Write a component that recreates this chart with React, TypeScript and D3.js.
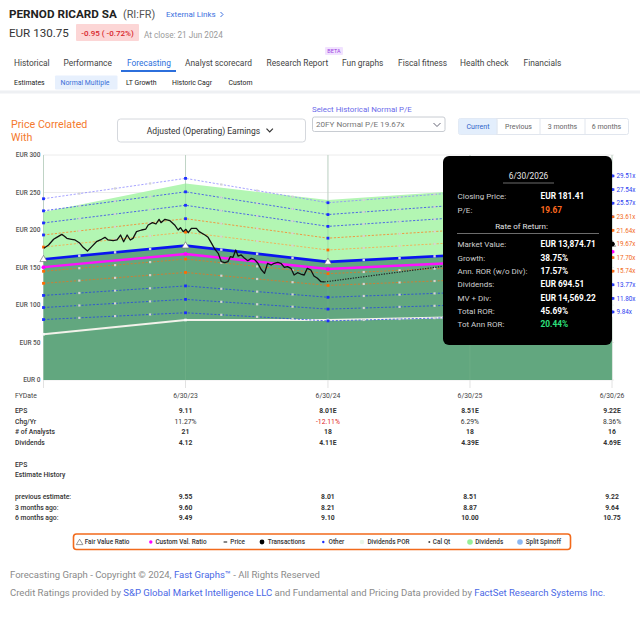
import * as d3 from 'd3';

// ---- data ----
const fyDates = ['2022-06-30', '2023-06-30', '2024-06-30', '2025-06-30', '2026-06-30'];
const epsValues = [8.19, 9.11, 8.01, 8.51, 9.22];
const fairValuePE = 19.67;
const peMultiples = [29.51, 27.54, 25.57, 23.61, 21.64, 17.7, 15.74, 13.77, 11.8, 9.84];
const labelMultiples = [29.51, 27.54, 25.57, 23.61, 21.64, 19.67, 17.7, 15.74, 13.77, 11.8, 9.84];
const customValues = [150.5, 168, 148, 157, 171];
const upperBandValues = [224, 262, 240, 253, 272];
const dividendLineValues = [61, 80, 80, 84, 86];
const calQuarters = [
  '2022-09-30', '2022-12-31', '2023-03-31',
  '2023-09-30', '2023-12-31', '2024-03-31',
  '2024-09-30', '2024-12-31', '2025-03-31',
  '2025-09-30', '2025-12-31', '2026-03-31',
];
const yTicks = [0, 50, 100, 150, 200, 250, 300];

const pricePoints: [string, number][] = [
  ['2022-07-01', 175.6], ['2022-07-13', 180], ['2022-07-26', 187.6], ['2022-08-03', 190.2],
  ['2022-08-16', 194.2], ['2022-08-22', 192], ['2022-08-29', 188.9], ['2022-09-10', 187.6],
  ['2022-09-19', 186.7], ['2022-09-30', 183.1], ['2022-10-10', 176.9], ['2022-10-21', 172],
  ['2022-11-01', 177.8], ['2022-11-13', 184.4], ['2022-11-26', 187.6], ['2022-12-05', 190.2],
  ['2022-12-13', 186.7], ['2022-12-26', 185.8], ['2023-01-05', 186.7], ['2023-01-14', 193.3],
  ['2023-01-22', 184.4], ['2023-01-31', 193.3], ['2023-02-08', 186.7], ['2023-02-15', 188.9],
  ['2023-02-24', 197.8], ['2023-03-09', 200], ['2023-03-20', 201.3], ['2023-03-26', 206.7],
  ['2023-04-06', 209.8], ['2023-04-15', 208], ['2023-04-23', 214.2], ['2023-04-28', 209.8],
  ['2023-05-08', 214.2], ['2023-05-21', 212.4], ['2023-06-02', 206.7], ['2023-06-11', 200],
  ['2023-06-17', 203.1], ['2023-06-24', 197.8], ['2023-07-01', 200.9], ['2023-07-07', 196.4],
  ['2023-07-15', 202.2], ['2023-07-28', 202.2], ['2023-08-04', 197.8], ['2023-08-19', 193.3],
  ['2023-08-27', 190.2], ['2023-09-05', 182.2], ['2023-09-13', 174.7], ['2023-09-22', 168.9],
  ['2023-09-30', 157.8], ['2023-10-09', 156.4], ['2023-10-17', 157.8], ['2023-10-23', 164.4],
  ['2023-10-30', 163.6], ['2023-11-06', 173.3], ['2023-11-12', 165.3], ['2023-11-20', 166.7],
  ['2023-11-29', 162.2], ['2023-12-07', 159.1], ['2023-12-16', 162.2], ['2023-12-24', 160.9],
  ['2024-01-02', 155.6], ['2024-01-10', 147.6], ['2024-01-19', 142.2], ['2024-01-27', 155.6],
  ['2024-02-05', 153.3], ['2024-02-13', 155.6], ['2024-02-22', 156.9], ['2024-03-01', 155.6],
  ['2024-03-10', 150.2], ['2024-03-18', 151.1], ['2024-03-27', 148.9], ['2024-04-04', 140],
  ['2024-04-13', 143.1], ['2024-04-21', 141.3], ['2024-04-30', 140], ['2024-05-08', 148.9],
  ['2024-05-17', 146.7], ['2024-05-25', 138.7], ['2024-06-03', 135.6], ['2024-06-12', 131.1],
  ['2024-06-21', 130.75],
];
const projectedPrice: [string, number] = ['2026-06-30', 181.41];

// table
const tableDates = ['6/30/23', '6/30/24', '6/30/25', '6/30/26'];
const tableEps = ['9.11', '8.01E', '8.51E', '9.22E'];
const tableChg = ['11.27%', '-12.11%', '6.29%', '8.36%'];
const tableAnalysts = ['21', '18', '18', '16'];
const tableDividends = ['4.12', '4.11E', '4.39E', '4.69E'];
const prevEstimate = ['9.55', '8.01', '8.51', '9.22'];
const threeMonthsAgo = ['9.60', '8.21', '8.87', '9.64'];
const sixMonthsAgo = ['9.49', '9.10', '10.00', '10.75'];

// tooltip
const tipLabels = ['Market Value:', 'Growth:', 'Ann. ROR (w/o Div):', 'Dividends:', 'MV + Div:', 'Total ROR:', 'Tot Ann ROR:'];
const tipValues = ['EUR 13,874.71', '38.75%', '17.57%', 'EUR 694.51', 'EUR 14,569.22', '45.69%', '20.44%'];

const tabs = ['Historical', 'Performance', 'Forecasting', 'Analyst scorecard', 'Research Report', 'Fun graphs', 'Fiscal fitness', 'Health check', 'Financials'];
const subTabs = ['Estimates', 'Normal Multiple', 'LT Growth', 'Historic Cagr', 'Custom'];
const periodButtons = ['Current', 'Previous', '3 months', '6 months'];
const legendLabels = ['Fair Value Ratio', 'Custom Val. Ratio', 'Price', 'Transactions', 'Other', 'Dividends POR', 'Cal Qt', 'Dividends', 'Split Spinoff'];

const FONT = 'Roboto, "Noto Sans", sans-serif';
const parse = d3.timeParse('%Y-%m-%d');

const lineColor = (m: number) => {
  if (m > 29) return '#8a86ff';
  if (m > 25) return '#2e3cf0';
  if (m > 22) return '#ff7d1f';
  if (m > 20) return '#ffa040';
  if (m > 15) return '#e8741f';
  return '#2442e6';
};
const labelColor = (m: number) => (m > 25 || m < 15 ? '#2a3cf0' : '#f26a1b');

export default function App() {
  const dates = fyDates.map((d) => parse(d) as Date);
  const x = d3.scaleTime().domain([dates[0], dates[dates.length - 1]]).range([43.5, 612]);
  const y = d3.scaleLinear().domain([0, 300]).range([380, 155]);
  const epsAt = d3.scaleTime<number>().domain(dates).range(epsValues);

  const line = d3
    .line<[Date, number]>()
    .x((d) => x(d[0]))
    .y((d) => y(d[1]));

  const fvSeries: [Date, number][] = dates.map((d, i) => [d, epsValues[i] * fairValuePE]);

  const lightArea = d3
    .area<number>()
    .x((_, i) => x(dates[i]))
    .y0((_, i) => y(epsValues[i] * fairValuePE))
    .y1((d) => y(d));
  const darkArea = d3
    .area<number>()
    .x((_, i) => x(dates[i]))
    .y0(y(0))
    .y1((d) => y(d));

  const priceSeries: [Date, number][] = pricePoints.map(([d, v]) => [parse(d) as Date, v]);
  const lastPrice = priceSeries[priceSeries.length - 1];
  const projSeries: [Date, number][] = [lastPrice, [parse(projectedPrice[0]) as Date, projectedPrice[1]]];

  const tableX = dates.slice(1).map((d) => x(d));
  const quarterDates = calQuarters.map((d) => parse(d) as Date);

  const txt = (props: any, s: string) => (
    <text fontFamily={FONT} {...props}>
      {s}
    </text>
  );

  const tabX = [14, 63.5, 127, 185, 266.5, 342, 398, 460, 523.5];
  const subTabX = [14, 60.5, 126, 172, 228.5];
  const legendX = [84.7, 155.4, 230.3, 267.8, 328.6, 367.4, 432.8, 475.2, 525.7];

  const tableRows: { label: string; vals: string[]; y: number; bold: boolean }[] = [
    { label: 'EPS', vals: tableEps, y: 412.5, bold: true },
    { label: 'Chg/Yr', vals: tableChg, y: 423.5, bold: false },
    { label: '# of Analysts', vals: tableAnalysts, y: 434, bold: true },
    { label: 'Dividends', vals: tableDividends, y: 444.5, bold: true },
    { label: 'previous estimate:', vals: prevEstimate, y: 498.5, bold: true },
    { label: '3 months ago:', vals: threeMonthsAgo, y: 509.5, bold: true },
    { label: '6 months ago:', vals: sixMonthsAgo, y: 520, bold: true },
  ];

  const ly = 542;

  return (
    <div style={{ position: 'absolute', left: 0, top: 0 }}>
      <svg width={640} height={618} style={{ display: 'block', background: '#fff' }}>
        {/* header */}
        {txt({ x: 9, y: 17.5, fontSize: 11.7, fontWeight: 700, fill: '#222' }, 'PERNOD RICARD SA')}
        {txt({ x: 123, y: 17.5, fontSize: 10.8, fill: '#555' }, '(RI:FR)')}
        {txt({ x: 166, y: 16.8, fontSize: 8, fill: '#3b6fe0' }, 'External Links')}
        <path d="M220.5,12 L223,14.5 L220.5,17" fill="none" stroke="#3b6fe0" strokeWidth={1} />
        {txt({ x: 9, y: 36.5, fontSize: 11.6, fill: '#333' }, 'EUR 130.75')}
        <rect x={76} y={24} width={63} height={17} fill="#fcd6d6" rx={1} />
        {txt({ x: 107.5, y: 35.5, fontSize: 8, fill: '#d8262c', textAnchor: 'middle', fontWeight: 500 }, '-0.95 ( -0.72%)')}
        {txt({ x: 144, y: 37.5, fontSize: 8.2, fill: '#9a9a9a' }, 'At close: 21 Jun 2024')}

        {/* tabs */}
        <rect x={325} y={47} width={18} height={8} fill="#f1e2ff" rx={1} />
        {txt({ x: 334, y: 53.4, fontSize: 5.5, fill: '#9b3fe0', textAnchor: 'middle' }, 'BETA')}
        {tabs.map((t, i) =>
          txt(
            { key: t, x: tabX[i], y: 66, fontSize: 8.4, fill: i === 2 ? '#2c6fdc' : '#444' },
            t,
          ),
        )}
        <rect x={121} y={70} width={55} height={2} fill="#2c6fdc" />
        <rect x={55} y={75.5} width={62.5} height={14} fill="#e7f0fd" rx={1} />
        {subTabs.map((t, i) =>
          txt(
            { key: t, x: subTabX[i], y: 84.8, fontSize: 6.9, fill: i === 1 ? '#3a6fd8' : '#222' },
            t,
          ),
        )}
        <rect x={0} y={90.5} width={640} height={3} fill="#eef0f3" />

        {/* controls */}
        {txt({ x: 11, y: 128, fontSize: 10.7, fill: '#f47a2e' }, 'Price Correlated')}
        {txt({ x: 11, y: 141, fontSize: 10.7, fill: '#f47a2e' }, 'With')}
        <rect x={117.5} y={119} width={188} height={23} rx={3} fill="#fff" stroke="#d5d8dd" />
        {txt({ x: 203.5, y: 133.6, fontSize: 8.5, fill: '#333', textAnchor: 'middle' }, 'Adjusted (Operating) Earnings')}
        <path d="M266.5,128.7 L269.7,131.9 L272.9,128.7" fill="none" stroke="#333" strokeWidth={1.2} />
        {txt({ x: 312, y: 111.8, fontSize: 7.9, fill: '#6a6aea' }, 'Select Historical Normal P/E')}
        <rect x={312.5} y={117} width={132.5} height={14.5} rx={2} fill="#fff" stroke="#c8ccd2" />
        {txt({ x: 316, y: 127.2, fontSize: 8.1, fill: '#777' }, '20FY Normal P/E 19.67x')}
        <path d="M433.5,123 L437,126.5 L440.5,123" fill="none" stroke="#667" strokeWidth={1} />
        <rect x={458.5} y={118.5} width={170} height={16} rx={2} fill="#fff" stroke="#e1e6ee" />
        <rect x={458.5} y={118.5} width={39} height={16} rx={2} fill="#e3eefc" />
        {[497, 540, 585].map((bx) => (
          <line key={bx} x1={bx} x2={bx} y1={118.5} y2={134.5} stroke="#e1e6ee" />
        ))}
        {periodButtons.map((b, i) =>
          txt(
            {
              key: b,
              x: [478, 518.5, 562.5, 606.5][i],
              y: 128.8,
              fontSize: 7,
              fill: i === 0 ? '#2f63c9' : '#666',
              textAnchor: 'middle',
            },
            b,
          ),
        )}

        {/* chart grid */}
        {yTicks.map((t) => (
          <g key={t}>
            <line x1={43.5} x2={614} y1={y(t)} y2={y(t)} stroke="#ececec" strokeWidth={1} />
            {txt(
              { x: 40.5, y: y(t) + 2.2, fontSize: 6.5, fill: '#555', textAnchor: 'end', fontWeight: 500 },
              `EUR ${t}`,
            )}
          </g>
        ))}
        {dates.map((d) => (
          <line key={+d} x1={x(d)} x2={x(d)} y1={155} y2={388} stroke="#e2e2e2" strokeWidth={1} />
        ))}

        {/* areas */}
        <path d={lightArea(upperBandValues) || ''} fill="#b3f6b3" />
        <path d={darkArea(fvSeries.map((p) => p[1])) || ''} fill="#62a77f" />
        {dates.map((d) => (
          <line key={'g' + +d} x1={x(d)} x2={x(d)} y1={155} y2={380} stroke="#7fb890" strokeOpacity={0.35} />
        ))}

        {/* dividend line */}
        <path
          d={line(dates.map((d, i) => [d, dividendLineValues[i]])) || ''}
          fill="none"
          stroke="#f2f2ea"
          strokeWidth={1.8}
        />
        {dates.map((d, i) => (
          <rect key={'dv' + i} x={x(d) - 1.3} y={y(dividendLineValues[i]) - 1.3} width={2.6} height={2.6} fill="#f8f8f8" />
        ))}

        {/* P/E multiple lines */}
        {peMultiples.map((m) => (
          <g key={m}>
            <path
              d={line(dates.map((d, i) => [d, epsValues[i] * m])) || ''}
              fill="none"
              stroke={lineColor(m)}
              strokeWidth={0.9}
              strokeDasharray="2.2,1.6"
              strokeOpacity={0.85}
            />
            {quarterDates.map((q) => (
              <rect key={+q} x={x(q) - 1.1} y={y(epsAt(q) * m) - 1.1} width={2.2} height={2.2} fill="#d4d4d4" />
            ))}
            {dates.map((d, i) => (
              <rect
                key={'f' + i}
                x={x(d) - 1.4}
                y={y(epsValues[i] * m) - 1.4}
                width={2.8}
                height={2.8}
                fill={m > 22 || m < 15 ? '#1a2cff' : '#ff6a00'}
              />
            ))}
          </g>
        ))}

        {/* fair value line */}
        <path d={line(fvSeries) || ''} fill="none" stroke="#0a14f0" strokeWidth={2.6} />
        {quarterDates.map((q) => (
          <rect key={'fq' + +q} x={x(q) - 1.2} y={y(epsAt(q) * fairValuePE) - 1.2} width={2.4} height={2.4} fill="#d8d8e8" />
        ))}

        {/* custom value line */}
        <path
          d={line(dates.map((d, i) => [d, customValues[i]])) || ''}
          fill="none"
          stroke="#ff10ff"
          strokeWidth={2.4}
        />
        {dates.map((d, i) => (
          <circle key={'c' + i} cx={x(d)} cy={y(customValues[i])} r={2} fill="#ff00ff" />
        ))}
        {dates.map((d, i) => {
          const cx = x(d);
          const cy = y(epsValues[i] * fairValuePE);
          return (
            <path
              key={'t' + i}
              d={`M${cx},${cy - 3.8} L${cx + 3.6},${cy + 2.4} L${cx - 3.6},${cy + 2.4} Z`}
              fill="#fff"
              stroke="#777"
              strokeWidth={0.7}
            />
          );
        })}

        {/* price */}
        <path d={line(priceSeries) || ''} fill="none" stroke="#111" strokeWidth={1.3} strokeLinejoin="round" />
        <path d={line(projSeries) || ''} fill="none" stroke="#222" strokeWidth={1.2} strokeDasharray="1.3,1.3" />

        {/* right labels */}
        {labelMultiples.map((m) => (
          <g key={'l' + m}>
            <rect
              x={612}
              y={y(epsValues[4] * m) - 1.2}
              width={2.4}
              height={2.4}
              fill={m === fairValuePE ? '#000' : labelColor(m)}
            />
            {txt(
              { x: 616.5, y: y(epsValues[4] * m) + 2.3, fontSize: 6.3, fill: labelColor(m) },
              `${m.toFixed(2)}x`,
            )}
          </g>
        ))}
        <circle cx={612} cy={y(epsValues[4] * fairValuePE)} r={2.5} fill="#000" />
        <rect x={612} y={y(customValues[4]) - 1.2} width={2.4} height={2.4} fill="#ff00ff" />

        {/* tooltip */}
        <rect x={443} y={156} width={169} height={189} rx={6} fill="#000" />
        {txt({ x: 528.5, y: 179, fontSize: 8.3, fill: '#e8e8e8', textAnchor: 'middle' }, '6/30/2026')}
        <line x1={503} x2={554} y1={183} y2={183} stroke="#888" strokeWidth={0.8} />
        {txt({ x: 457.5, y: 199, fontSize: 8, fill: '#cfcfcf' }, 'Closing Price:')}
        {txt({ x: 540.5, y: 199, fontSize: 8.3, fill: '#fff', fontWeight: 700 }, 'EUR 181.41')}
        {txt({ x: 457.5, y: 213, fontSize: 8, fill: '#cfcfcf' }, 'P/E:')}
        {txt({ x: 540.5, y: 213, fontSize: 8.3, fill: '#ff6a1f', fontWeight: 700 }, '19.67')}
        {txt({ x: 521.5, y: 229, fontSize: 8, fill: '#e6e6e6', textAnchor: 'middle' }, 'Rate of Return:')}
        <line x1={457} x2={599} y1={233.5} y2={233.5} stroke="#888" strokeWidth={0.8} />
        {tipLabels.map((l, i) => (
          <g key={l}>
            {txt({ x: 457.5, y: 247.3 + i * 13.35, fontSize: 8, fill: '#cfcfcf' }, l)}
            {txt(
              {
                x: 540.5,
                y: 247.3 + i * 13.35,
                fontSize: 8.3,
                fill: i === 6 ? '#2ee07e' : '#fff',
                fontWeight: 700,
              },
              tipValues[i],
            )}
          </g>
        ))}

        {/* table */}
        {txt({ x: 15, y: 397.5, fontSize: 6.8, fill: '#444' }, 'FYDate')}
        {tableDates.map((d, i) =>
          txt({ key: d, x: tableX[i], y: 397.5, fontSize: 6.8, fill: '#444', textAnchor: 'middle' }, d),
        )}
        {tableRows.map((r) => (
          <g key={r.label}>
            {txt({ x: 15, y: r.y, fontSize: 6.8, fill: '#333', fontWeight: 500 }, r.label)}
            {r.vals.map((v, i) =>
              txt(
                {
                  key: i,
                  x: tableX[i],
                  y: r.y,
                  fontSize: 6.8,
                  fill: v.startsWith('-') ? '#e02424' : '#333',
                  fontWeight: r.bold ? 700 : 400,
                  textAnchor: 'middle',
                },
                v,
              ),
            )}
          </g>
        ))}
        {txt({ x: 15, y: 466.5, fontSize: 6.8, fill: '#333', fontWeight: 500 }, 'EPS')}
        {txt({ x: 15, y: 477, fontSize: 6.8, fill: '#333', fontWeight: 500 }, 'Estimate History')}

        {/* legend */}
        <rect x={73.5} y={534} width={497} height={15.5} rx={3} fill="#fff" stroke="#f26a1b" strokeWidth={1.6} />
        <path d={`M76.3,${ly + 2.6} L79.6,${ly - 2.8} L82.9,${ly + 2.6} Z`} fill="#fff" stroke="#555" strokeWidth={0.6} />
        <circle cx={150.8} cy={ly} r={1.7} fill="#ff00ff" />
        <line x1={223.6} x2={227.2} y1={ly} y2={ly} stroke="#111" strokeWidth={1} />
        <circle cx={262} cy={ly} r={2.4} fill="#000" />
        <circle cx={323.3} cy={ly} r={1.2} fill="#1a2cff" />
        <circle cx={362} cy={ly} r={2.3} fill="#e8f6e8" />
        <circle cx={429.3} cy={ly} r={1} fill="#444" />
        <circle cx={470} cy={ly} r={2.8} fill="#98ee98" />
        <circle cx={520} cy={ly} r={2.8} fill="#8cb8f2" />
        {legendLabels.map((l, i) =>
          txt({ key: l, x: legendX[i], y: ly + 2.2, fontSize: 6.4, fill: '#333', fontWeight: 500 }, l),
        )}

        {/* footer */}
        <text x={10} y={577.5} fontFamily={FONT} fontSize={9.55} fill="#8a8a8a">
          Forecasting Graph - Copyright © 2024, <tspan fill="#4a68e6">Fast Graphs™</tspan> - All Rights Reserved
        </text>
        <text x={10} y={596} fontFamily={FONT} fontSize={9.55} fill="#8a8a8a">
          Credit Ratings provided by <tspan fill="#4a68e6">S&amp;P Global Market Intelligence LLC</tspan> and Fundamental
          and Pricing Data provided by <tspan fill="#4a68e6">FactSet Research Systems Inc.</tspan>
        </text>
      </svg>
    </div>
  );
}
